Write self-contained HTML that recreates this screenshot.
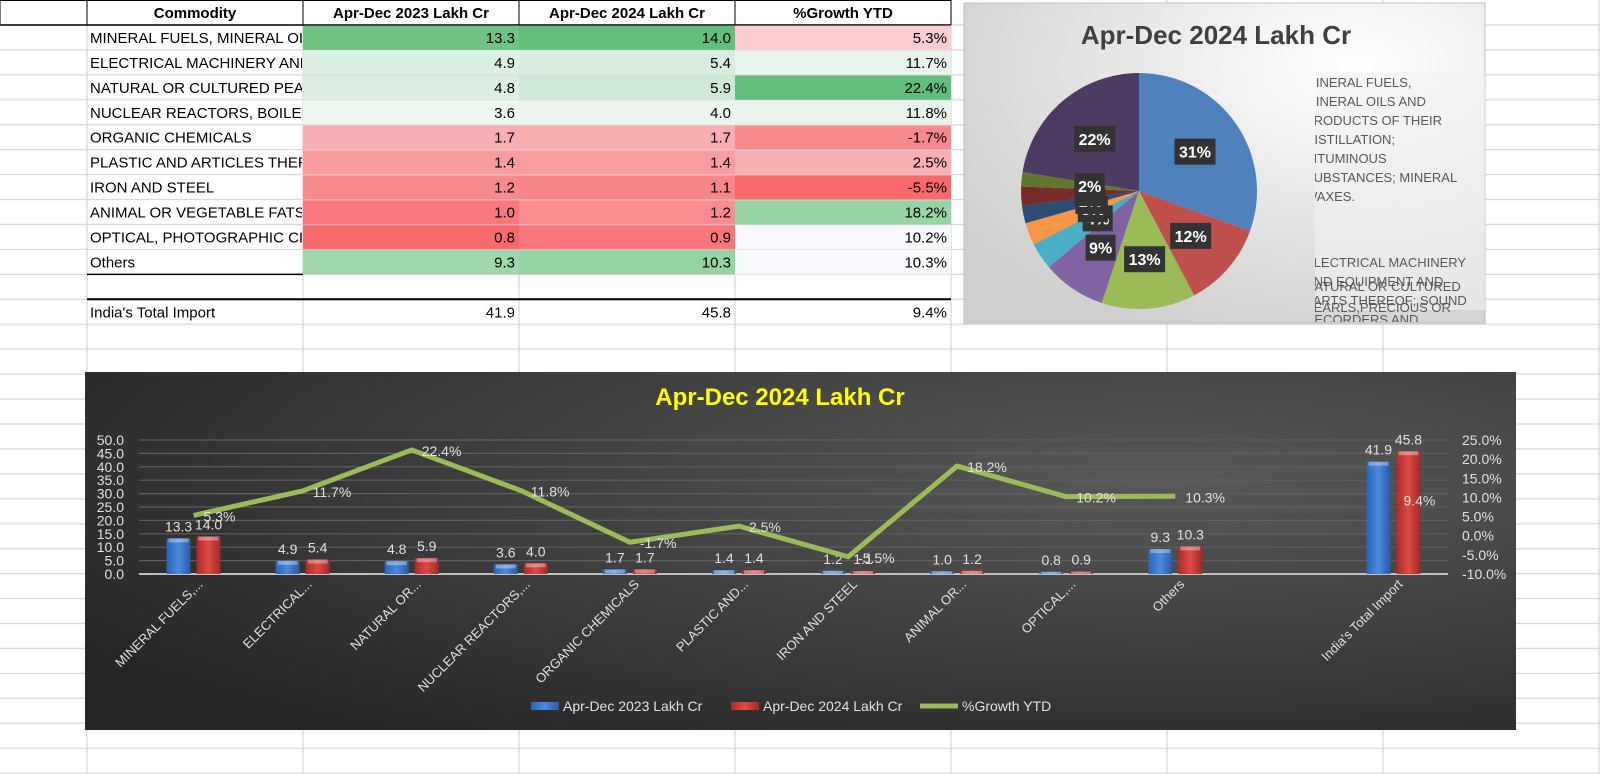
<!DOCTYPE html>
<html><head><meta charset="utf-8"><style>
html,body{margin:0;padding:0;background:#fff;}
svg{display:block;font-family:"Liberation Sans Narrow","Liberation Sans",sans-serif;}
</style></head><body>
<svg id="s" width="1600" height="774" viewBox="0 0 1600 774" xmlns="http://www.w3.org/2000/svg">
<defs>
<radialGradient id="dark" cx="0.75" cy="0.3" r="0.9">
<stop offset="0" stop-color="#595959"/><stop offset="1" stop-color="#262626"/>
</radialGradient>
<radialGradient id="light" cx="0.75" cy="0.2" r="0.9">
<stop offset="0" stop-color="#ffffff"/><stop offset="1" stop-color="#cfcfcf"/>
</radialGradient>
<linearGradient id="gb" x1="0" x2="1"><stop offset="0" stop-color="#2e64b0"/><stop offset="0.5" stop-color="#4a8ae0"/><stop offset="1" stop-color="#2a5aa0"/></linearGradient>
<linearGradient id="gr" x1="0" x2="1"><stop offset="0" stop-color="#a82c2a"/><stop offset="0.5" stop-color="#e04a46"/><stop offset="1" stop-color="#9e2a28"/></linearGradient>
<clipPath id="clipA"><rect x="87" y="0" width="215" height="300"/></clipPath>
<clipPath id="clipLeg"><rect x="1315" y="60" width="170" height="262"/></clipPath>
</defs>
<g id="grid"></g>
<g id="table"></g>
<g id="pie"></g>
<g id="combo"></g>
</svg>
<script>
const categories=["MINERAL FUELS, MINERAL OILS AND PRODUCTS","ELECTRICAL MACHINERY AND EQUIPMENT","NATURAL OR CULTURED PEARLS","NUCLEAR REACTORS, BOILERS","ORGANIC CHEMICALS","PLASTIC AND ARTICLES THEREOF","IRON AND STEEL","ANIMAL OR VEGETABLE FATS","OPTICAL, PHOTOGRAPHIC CINEMATOGRAPHIC","Others"];
const axisLabels=["MINERAL FUELS,...","ELECTRICAL...","NATURAL OR...","NUCLEAR REACTORS,...","ORGANIC CHEMICALS","PLASTIC AND...","IRON AND STEEL","ANIMAL OR...","OPTICAL,...","Others"];
const v2023=[13.3,4.9,4.8,3.6,1.7,1.4,1.2,1.0,0.8,9.3];
const v2024=[14.0,5.4,5.9,4.0,1.7,1.4,1.1,1.2,0.9,10.3];
const growth=[5.3,11.7,22.4,11.8,-1.7,2.5,-5.5,18.2,10.2,10.3];
const total2023=41.9, total2024=45.8, totalGrowth=9.4;
const leftTicks=[0,5,10,15,20,25,30,35,40,45,50];
const rightTicks=[-10,-5,0,5,10,15,20,25];
const col23=["#70c382","#dcefe0","#dcefe0","#eef6f0","#f8aeb2","#f89ca0","#f78a8e","#f7797d","#f8696b","#a0d7ac"];
const col24=["#63be7b","#d8ede0","#d0e9d6","#ebf5ee","#f9aeb2","#f99da0","#f8868a","#f88c90","#f7777a","#95d2a4"];
const colG=["#fbcdd0","#e8f4eb","#63be7b","#e8f4eb","#f88a8d","#f9b1b4","#f8696b","#97d3a5","#f8f9fc","#f8f9fc"];
const pieColors=["#4f81bd","#c0504d","#9bbb59","#8064a2","#4bacc6","#f79646","#2c4d75","#772c2a","#5f7530","#4d3b62"];

const NS="http://www.w3.org/2000/svg";
function mk(parent,tag,attrs,text){const e=document.createElementNS(NS,tag);for(const k in attrs)e.setAttribute(k,attrs[k]);if(text!==undefined)e.textContent=text;parent.appendChild(e);return e;}

// grid
const cols=[87,303,519,735,951,1167,1383,1599];
const RH=24.94;
const grid=document.getElementById('grid');
for(let i=1;i<32;i++){const l=mk(grid,'line',{x1:0,x2:1600,y1:i*RH,y2:i*RH,stroke:'#d9d9d9','stroke-width':1.3});

}
cols.forEach(x=>{const l=mk(grid,'line',{x1:x,x2:x,y1:0,y2:774,stroke:'#d9d9d9','stroke-width':1.3});

});

// table
const tb=document.getElementById('table');
const fs=15;
mk(tb,'rect',{x:0,y:0,width:951,height:RH,fill:'#fff'});
const heads=["Commodity","Apr-Dec 2023 Lakh Cr","Apr-Dec 2024 Lakh Cr","%Growth YTD"];
heads.forEach((h,i)=>{const t=mk(tb,'text',{x:(cols[i]+cols[i+1])/2,y:18,'text-anchor':'middle','font-size':fs,'font-weight':'bold',fill:'#000'},h);

});
[0,87,303,519,735,951].forEach(x=>mk(tb,'line',{x1:x,x2:x,y1:0,y2:RH,stroke:'#000','stroke-width':1}));
mk(tb,'line',{x1:0,x2:951,y1:0.5,y2:0.5,stroke:'#000'});
mk(tb,'line',{x1:0,x2:951,y1:RH,y2:RH,stroke:'#000','stroke-width':1.5});
categories.forEach((c,i)=>{
  const y=RH*(i+1);
  const r1=mk(tb,'rect',{x:303,y:y+0.7,width:216,height:RH-0.7,fill:col23[i]});
  
  
  const r2=mk(tb,'rect',{x:519,y:y+0.7,width:216,height:RH-0.7,fill:col24[i]});
  
  
  const r3=mk(tb,'rect',{x:735,y:y+0.7,width:216,height:RH-0.7,fill:colG[i]});
  
  
  const t=mk(tb,'text',{x:90,y:y+18,'font-size':fs,fill:'#000','clip-path':'url(#clipA)'},c);
  
  
  mk(tb,'text',{x:515,y:y+18,'font-size':fs,'text-anchor':'end'},v2023[i].toFixed(1));
  mk(tb,'text',{x:731,y:y+18,'font-size':fs,'text-anchor':'end'},v2024[i].toFixed(1));
  mk(tb,'text',{x:947,y:y+18,'font-size':fs,'text-anchor':'end'},growth[i].toFixed(1)+'%');
});
mk(tb,'line',{x1:87,x2:303,y1:RH*11,y2:RH*11,stroke:'#000','stroke-width':1.5});
mk(tb,'line',{x1:87,x2:951,y1:RH*12,y2:RH*12,stroke:'#000','stroke-width':2});
const ty=RH*12;
const tt=mk(tb,'text',{x:90,y:ty+18,'font-size':fs},"India's Total Import");


mk(tb,'text',{x:515,y:ty+18,'font-size':fs,'text-anchor':'end'},total2023.toFixed(1));
mk(tb,'text',{x:731,y:ty+18,'font-size':fs,'text-anchor':'end'},total2024.toFixed(1));
mk(tb,'text',{x:947,y:ty+18,'font-size':fs,'text-anchor':'end'},totalGrowth.toFixed(1)+'%');

// pie
const pg=document.getElementById('pie');
const pb=mk(pg,'rect',{x:964,y:3,width:521,height:320,fill:'url(#light)',stroke:'#bfbfbf'});


const pt=mk(pg,'text',{x:1216,y:44,'text-anchor':'middle','font-size':26,'font-weight':'bold',fill:'#404040','font-family':'Liberation Sans, sans-serif'},'Apr-Dec 2024 Lakh Cr');


const cx=1139,cy=191,R=118;
const sum=v2024.reduce((a,b)=>a+b,0);
let a0=-Math.PI/2;
const labs=[];
v2024.forEach((v,i)=>{
  const a1=a0+v/sum*2*Math.PI;
  const large=(a1-a0)>Math.PI?1:0;
  const d=`M${cx},${cy} L${cx+R*Math.cos(a0)},${cy+R*Math.sin(a0)} A${R},${R} 0 ${large} 1 ${cx+R*Math.cos(a1)},${cy+R*Math.sin(a1)} Z`;
  const p=mk(pg,'path',{d,fill:pieColors[i]});
  
  
  const am=(a0+a1)/2;
  const rr=v/sum>0.05?0.58*R:0.42*R;
  labs.push([cx+rr*Math.cos(am),cy+rr*Math.sin(am),Math.round(v/sum*100)+'%']);
  a0=a1;
});
labs.forEach(l=>{
  const w=l[2].length*11+8;
  mk(pg,'rect',{x:l[0]-w/2,y:l[1]-13,width:w,height:26,fill:'#333'});
  const t=mk(pg,'text',{x:l[0],y:l[1]+6,'text-anchor':'middle','font-size':16,'font-weight':'bold',fill:'#fff','font-family':'Liberation Sans, sans-serif'},l[2]);
  
  
});
const lg=mk(pg,'g',{'clip-path':'url(#clipLeg)'});


mk(lg,'rect',{x:1315,y:72,width:170,height:238,fill:'#f2f2f2',opacity:0.6});
const legLines=[[87,"MINERAL FUELS,",0],[106,"MINERAL OILS AND"],[125,"PRODUCTS OF THEIR"],[144,"DISTILLATION;"],[163,"BITUMINOUS"],[182,"SUBSTANCES; MINERAL"],[201,"WAXES."],[267,"ELECTRICAL MACHINERY",1],[286,"AND EQUIPMENT AND"],[305,"PARTS THEREOF; SOUND"],[324,"RECORDERS AND"],[291,"NATURAL OR CULTURED",2],[312,"PEARLS,PRECIOUS OR"]];
legLines.forEach(l=>{
  if(l[2]!==undefined) mk(lg,'rect',{x:1324-22,y:l[0]-10,width:8,height:8,fill:pieColors[l[2]]});
  mk(lg,'text',{x:1305,y:l[0],'font-size':13,fill:'#595959','font-family':'Liberation Sans, sans-serif'},l[1]);
});
// shift legend square to right spot
lg.setAttribute('transform','translate(0,0)');

// combo chart
const cg=document.getElementById('combo');
const bg=mk(cg,'rect',{x:85,y:372,width:1431,height:358,fill:'url(#dark)'});


const ct=mk(cg,'text',{x:780,y:405,'text-anchor':'middle','font-size':24,'font-weight':'bold',fill:'#ffff00','font-family':'Liberation Sans, sans-serif'},'Apr-Dec 2024 Lakh Cr');


const pl=139,pr=1448,yTop=440,yBot=574;
const step=(pr-pl)/12;
const xc=i=>pl+step*(i+0.5);
const yL=v=>yBot-(v/50)*(yBot-yTop);
const yR=v=>yBot-((v+10)/35)*(yBot-yTop);
leftTicks.forEach(v=>{
  mk(cg,'line',{x1:pl,x2:pr,y1:yL(v),y2:yL(v),stroke:v===0?'#bfbfbf':'#5e5e5e','stroke-width':v===0?2:1.2});
  const t=mk(cg,'text',{x:124,y:yL(v)+5,'text-anchor':'end','font-size':14,fill:'#e0e0e0'},v.toFixed(1));
  
  
});
rightTicks.forEach(v=>{
  const t=mk(cg,'text',{x:1462,y:yR(v)+5,'font-size':14,fill:'#e0e0e0'},v.toFixed(1)+'%');
  
  
});
function bar(x,v,fill,name){
  const y=yL(v);const r=mk(cg,'rect',{x,y,width:24,height:yBot-y,fill});
  
  
  mk(cg,'rect',{x:x+2,y,width:20,height:Math.min(4,yBot-y),fill:'#fff',opacity:0.35});
}
const allA=v2023.concat([null,total2023]);
const allB=v2024.concat([null,total2024]);
const allLab=axisLabels.concat(["","India's Total Import"]);
allA.forEach((v,i)=>{
  if(v===null)return;
  const x=xc(i);
  bar(x-27,v,'url(#gb)','bar-2023');
  bar(x+3,allB[i],'url(#gr)','bar-2024');
  mk(cg,'text',{x:x-15,y:yL(v)-7,'text-anchor':'middle','font-size':14,fill:'#e0e0e0'},v.toFixed(1));
  mk(cg,'text',{x:x+15,y:yL(allB[i])-7,'text-anchor':'middle','font-size':14,fill:'#e0e0e0'},allB[i].toFixed(1));
  const lt=mk(cg,'text',{x:x+10,y:585,'text-anchor':'end','font-size':13,fill:'#e0e0e0',transform:`rotate(-45 ${x+10} 585)`},allLab[i]);
  
  
});
const pts=growth.map((g,i)=>xc(i)+','+yR(g)).join(' ');
const ln=mk(cg,'polyline',{points:pts,fill:'none',stroke:'#9bbb59','stroke-width':5,'stroke-linejoin':'round'});


growth.forEach((g,i)=>{
  const t=mk(cg,'text',{x:xc(i)+10,y:yR(g)+6,'font-size':14,fill:'#e0e0e0'},g.toFixed(1)+'%');
  
  
});
mk(cg,'text',{x:xc(11)+10,y:yR(totalGrowth)+6,'font-size':14,fill:'#e0e0e0'},totalGrowth.toFixed(1)+'%');
// legend
const lgc=mk(cg,'g',{});


mk(lgc,'rect',{x:531,y:702,width:28,height:8,fill:'url(#gb)'});
mk(lgc,'text',{x:563,y:711,'font-size':14,fill:'#e0e0e0'},'Apr-Dec 2023 Lakh Cr');
mk(lgc,'rect',{x:731,y:702,width:28,height:8,fill:'url(#gr)'});
mk(lgc,'text',{x:763,y:711,'font-size':14,fill:'#e0e0e0'},'Apr-Dec 2024 Lakh Cr');
mk(lgc,'line',{x1:920,x2:958,y1:706,y2:706,stroke:'#9bbb59','stroke-width':5});
mk(lgc,'text',{x:962,y:711,'font-size':14,fill:'#e0e0e0'},'%Growth YTD');
</script>
</body></html>
